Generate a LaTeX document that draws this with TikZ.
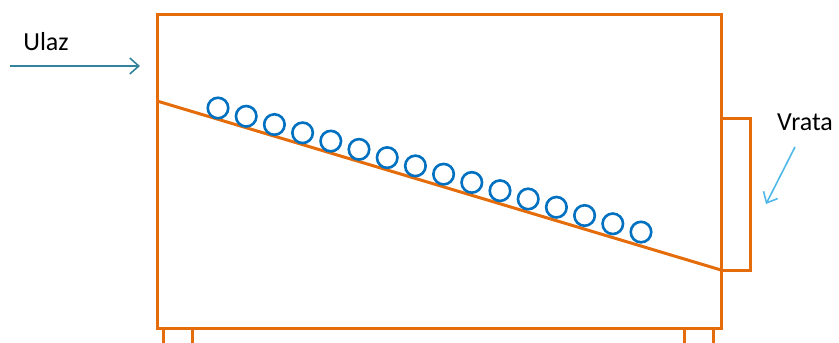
\documentclass[tikz,border=0pt]{standalone}
\usepackage{fontspec}
\setmainfont{Carlito}
\usetikzlibrary{arrows.meta}
\definecolor{frameor}{HTML}{E46C0A}
\definecolor{ballblue}{HTML}{0070C0}
\definecolor{inarrow}{HTML}{31849B}
\definecolor{doorarrow}{HTML}{4FB8E8}
\tikzset{
  frame/.style={draw=frameor, line width=3pt, line join=miter},
  ball/.style={circle, draw=ballblue, line width=2.6pt, minimum size=20.5pt, inner sep=0pt},
  lbl/.style={font=\fontsize{26}{30}\selectfont, inner sep=0pt},
  thinarrow/.style={line width=1.6pt, -{Straight Barb[length=9pt,width=16pt]}}
}
\begin{document}
\begin{tikzpicture}[x=1pt,y=-1pt]
\useasboundingbox (0,0) rectangle (839,343);
% box
\draw[frame] (157,14) rectangle (721,328);
% legs
\draw[frame] (163,328) -- (163,343);
\draw[frame] (192,328) -- (192,343);
\draw[frame] (684,328) -- (684,343);
\draw[frame] (713,328) -- (713,343);
% incline
\coordinate (inA) at (157,101);
\coordinate (inB) at (721,270);
\draw[frame] (inA) -- (inB);
% door
\draw[frame] (721,118) -- (750,118) -- (750,270) -- (721,270);
% balls
\foreach \i in {0,...,15} {
  \node[ball] (b\i) at ({218+28.2*\i},{108+8.27*\i}) {};
}
% labels
\node[lbl] (ulaz) at (46,42) {Ulaz};
\node[lbl] (vrata) at (805,122) {Vrata};
\coordinate (ulazS) at (10,66);
\coordinate (ulazE) at (140,66);
\draw[thinarrow, draw=inarrow] (ulazS) -- (ulazE);
\coordinate (vrS) at (795,147);
\coordinate (vrE) at (766,204);
\draw[thinarrow, draw=doorarrow] (vrS) -- (vrE);
\end{tikzpicture}
\end{document}
